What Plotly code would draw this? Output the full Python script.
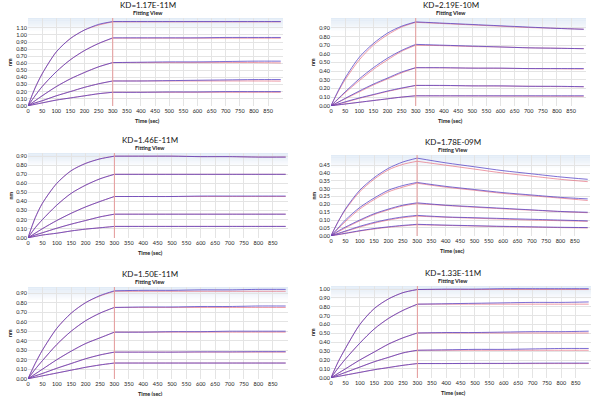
import plotly.graph_objects as go

W, H = 600, 396

# ---------------- data ----------------
T_ASSOC = [0, 25, 50, 100, 150, 200, 250, 300]
T_DISS = [300, 400, 500, 600, 700, 800, 895]
X_TICKS = list(range(0, 851, 50))

TITLES = ["KD=1.17E-11M", "KD=2.19E-10M", "KD=1.46E-11M",
          "KD=1.78E-09M", "KD=1.50E-11M", "KD=1.33E-11M"]

# Panel 1 (KD=1.17E-11M)
P1_ASSOC_DATA = [[0, 0.25, 0.45, 0.76, 0.95, 1.07, 1.15, 1.19],
                 [0, 0.14, 0.27, 0.48, 0.65, 0.78, 0.88, 0.96],
                 [0, 0.07, 0.14, 0.27, 0.38, 0.47, 0.55, 0.61],
                 [0, 0.04, 0.07, 0.14, 0.20, 0.26, 0.31, 0.35],
                 [0, 0.02, 0.04, 0.08, 0.11, 0.14, 0.17, 0.19]]
P1_ASSOC_FIT = [[0, 0.25, 0.45, 0.76, 0.95, 1.07, 1.14, 1.185],
                [0, 0.14, 0.27, 0.48, 0.65, 0.78, 0.88, 0.955],
                [0, 0.07, 0.14, 0.27, 0.38, 0.47, 0.55, 0.61],
                [0, 0.04, 0.07, 0.14, 0.20, 0.26, 0.31, 0.35],
                [0, 0.02, 0.04, 0.08, 0.11, 0.14, 0.17, 0.19]]
P1_DISS_DATA = [[1.19, 1.19, 1.19, 1.19, 1.19, 1.19, 1.19],
                [0.96, 0.96, 0.96, 0.96, 0.965, 0.965, 0.965],
                [0.61, 0.615, 0.62, 0.62, 0.625, 0.63, 0.63],
                [0.35, 0.35, 0.355, 0.36, 0.365, 0.37, 0.37],
                [0.19, 0.19, 0.195, 0.195, 0.20, 0.20, 0.20]]
P1_DISS_FIT = [[1.185, 1.185, 1.185, 1.185, 1.185, 1.185, 1.185],
               [0.955, 0.955, 0.955, 0.955, 0.955, 0.955, 0.955],
               [0.61, 0.61, 0.61, 0.61, 0.61, 0.61, 0.605],
               [0.35, 0.35, 0.35, 0.35, 0.35, 0.35, 0.348],
               [0.19, 0.19, 0.19, 0.19, 0.19, 0.19, 0.19]]

# Panel 2 (KD=2.19E-10M)
P2_ASSOC_DATA = [[0, 0.17, 0.32, 0.56, 0.72, 0.84, 0.92, 0.97],
                 [0, 0.08, 0.16, 0.31, 0.44, 0.55, 0.64, 0.71],
                 [0, 0.04, 0.085, 0.17, 0.25, 0.32, 0.39, 0.44],
                 [0, 0.02, 0.045, 0.09, 0.13, 0.17, 0.205, 0.235],
                 [0, 0.01, 0.02, 0.04, 0.06, 0.08, 0.10, 0.115]]
P2_ASSOC_FIT = [[0, 0.16, 0.30, 0.53, 0.70, 0.82, 0.91, 0.965],
                [0, 0.075, 0.15, 0.29, 0.42, 0.53, 0.63, 0.70],
                [0, 0.04, 0.08, 0.16, 0.24, 0.31, 0.38, 0.44],
                [0, 0.02, 0.04, 0.085, 0.125, 0.165, 0.20, 0.235],
                [0, 0.01, 0.02, 0.04, 0.06, 0.08, 0.10, 0.115]]
P2_DISS_DATA = [[0.97, 0.955, 0.94, 0.925, 0.91, 0.895, 0.885],
                [0.71, 0.70, 0.69, 0.68, 0.67, 0.665, 0.66],
                [0.44, 0.44, 0.435, 0.435, 0.43, 0.43, 0.43],
                [0.235, 0.235, 0.23, 0.23, 0.225, 0.225, 0.22],
                [0.115, 0.115, 0.115, 0.115, 0.115, 0.115, 0.115]]
P2_DISS_FIT = [[0.965, 0.95, 0.935, 0.92, 0.905, 0.895, 0.885],
               [0.70, 0.695, 0.685, 0.68, 0.67, 0.665, 0.66],
               [0.44, 0.438, 0.435, 0.433, 0.43, 0.428, 0.425],
               [0.235, 0.233, 0.23, 0.228, 0.225, 0.222, 0.22],
               [0.115, 0.114, 0.113, 0.112, 0.111, 0.11, 0.11]]

# Panel 3 (KD=1.46E-11M)
P3_ASSOC_DATA = [[0, 0.22, 0.38, 0.60, 0.74, 0.82, 0.87, 0.90],
                 [0, 0.11, 0.20, 0.36, 0.49, 0.58, 0.65, 0.70],
                 [0, 0.05, 0.10, 0.19, 0.27, 0.34, 0.40, 0.455],
                 [0, 0.03, 0.055, 0.105, 0.15, 0.19, 0.23, 0.26],
                 [0, 0.015, 0.03, 0.05, 0.075, 0.095, 0.11, 0.125]]
P3_ASSOC_FIT = [[0, 0.22, 0.38, 0.60, 0.74, 0.82, 0.87, 0.90],
                [0, 0.11, 0.20, 0.36, 0.49, 0.58, 0.65, 0.70],
                [0, 0.05, 0.10, 0.19, 0.27, 0.34, 0.40, 0.455],
                [0, 0.03, 0.055, 0.105, 0.15, 0.19, 0.23, 0.26],
                [0, 0.015, 0.03, 0.05, 0.075, 0.095, 0.11, 0.125]]
P3_DISS_DATA = [[0.90, 0.90, 0.90, 0.895, 0.895, 0.89, 0.89],
                [0.70, 0.70, 0.70, 0.70, 0.70, 0.70, 0.70],
                [0.455, 0.455, 0.455, 0.46, 0.46, 0.46, 0.46],
                [0.26, 0.26, 0.26, 0.26, 0.26, 0.26, 0.26],
                [0.125, 0.125, 0.125, 0.125, 0.125, 0.125, 0.125]]
P3_DISS_FIT = [[0.90, 0.90, 0.90, 0.895, 0.895, 0.89, 0.89],
               [0.70, 0.70, 0.70, 0.70, 0.70, 0.70, 0.70],
               [0.455, 0.455, 0.455, 0.455, 0.455, 0.455, 0.455],
               [0.26, 0.26, 0.26, 0.26, 0.26, 0.26, 0.26],
               [0.125, 0.125, 0.125, 0.125, 0.125, 0.125, 0.125]]

# Panel 4 (KD=1.78E-09M)
P4_ASSOC_DATA = [[0, 0.09, 0.17, 0.29, 0.37, 0.43, 0.47, 0.495],
                 [0, 0.05, 0.10, 0.18, 0.24, 0.29, 0.32, 0.34],
                 [0, 0.03, 0.055, 0.10, 0.14, 0.17, 0.195, 0.21],
                 [0, 0.015, 0.03, 0.06, 0.085, 0.105, 0.12, 0.13],
                 [0, 0.008, 0.016, 0.032, 0.046, 0.057, 0.066, 0.073]]
P4_ASSOC_FIT = [[0, 0.09, 0.165, 0.28, 0.36, 0.42, 0.455, 0.475],
                [0, 0.045, 0.09, 0.17, 0.23, 0.28, 0.31, 0.335],
                [0, 0.025, 0.05, 0.095, 0.135, 0.165, 0.19, 0.205],
                [0, 0.013, 0.027, 0.055, 0.08, 0.10, 0.115, 0.125],
                [0, 0.007, 0.014, 0.03, 0.043, 0.054, 0.063, 0.07]]
P4_DISS_DATA = [[0.495, 0.465, 0.44, 0.415, 0.395, 0.375, 0.36],
                [0.34, 0.315, 0.295, 0.275, 0.26, 0.245, 0.235],
                [0.21, 0.195, 0.185, 0.175, 0.165, 0.155, 0.15],
                [0.13, 0.12, 0.115, 0.11, 0.105, 0.10, 0.095],
                [0.073, 0.068, 0.064, 0.06, 0.057, 0.054, 0.052]]
P4_DISS_FIT = [[0.475, 0.45, 0.425, 0.40, 0.38, 0.36, 0.345],
               [0.335, 0.31, 0.29, 0.27, 0.255, 0.24, 0.225],
               [0.205, 0.193, 0.182, 0.172, 0.163, 0.154, 0.147],
               [0.125, 0.118, 0.112, 0.106, 0.10, 0.096, 0.092],
               [0.07, 0.066, 0.062, 0.058, 0.055, 0.052, 0.05]]

# Panel 5 (KD=1.50E-11M)
P5_ASSOC_DATA = [[0, 0.16, 0.30, 0.53, 0.69, 0.80, 0.875, 0.925],
                 [0, 0.10, 0.19, 0.36, 0.50, 0.61, 0.69, 0.75],
                 [0, 0.05, 0.10, 0.20, 0.29, 0.37, 0.43, 0.49],
                 [0, 0.03, 0.055, 0.11, 0.16, 0.21, 0.25, 0.28],
                 [0, 0.015, 0.03, 0.06, 0.09, 0.12, 0.145, 0.165]]
P5_ASSOC_FIT = [[0, 0.16, 0.30, 0.53, 0.69, 0.80, 0.87, 0.92],
                [0, 0.10, 0.19, 0.36, 0.50, 0.61, 0.69, 0.75],
                [0, 0.05, 0.10, 0.20, 0.29, 0.37, 0.43, 0.49],
                [0, 0.03, 0.055, 0.11, 0.16, 0.21, 0.25, 0.28],
                [0, 0.015, 0.03, 0.06, 0.09, 0.12, 0.145, 0.165]]
P5_DISS_DATA = [[0.925, 0.93, 0.93, 0.935, 0.935, 0.94, 0.94],
                [0.75, 0.755, 0.755, 0.76, 0.76, 0.765, 0.765],
                [0.49, 0.49, 0.495, 0.495, 0.50, 0.50, 0.50],
                [0.28, 0.28, 0.28, 0.283, 0.283, 0.285, 0.285],
                [0.165, 0.165, 0.165, 0.165, 0.165, 0.165, 0.165]]
P5_DISS_FIT = [[0.92, 0.92, 0.92, 0.92, 0.92, 0.92, 0.92],
               [0.75, 0.75, 0.75, 0.75, 0.75, 0.75, 0.75],
               [0.49, 0.49, 0.49, 0.49, 0.49, 0.49, 0.49],
               [0.28, 0.28, 0.28, 0.28, 0.28, 0.28, 0.28],
               [0.165, 0.165, 0.165, 0.165, 0.165, 0.165, 0.165]]

# Panel 6 (KD=1.33E-11M)
P6_ASSOC_DATA = [[0, 0.18, 0.33, 0.60, 0.78, 0.89, 0.96, 0.995],
                 [0, 0.11, 0.21, 0.39, 0.55, 0.67, 0.76, 0.83],
                 [0, 0.05, 0.10, 0.20, 0.29, 0.38, 0.45, 0.505],
                 [0, 0.03, 0.06, 0.12, 0.18, 0.23, 0.28, 0.31],
                 [0, 0.015, 0.03, 0.06, 0.09, 0.115, 0.14, 0.16]]
P6_ASSOC_FIT = [[0, 0.18, 0.33, 0.60, 0.78, 0.89, 0.96, 0.995],
                [0, 0.11, 0.21, 0.39, 0.55, 0.67, 0.76, 0.83],
                [0, 0.05, 0.10, 0.20, 0.29, 0.38, 0.45, 0.505],
                [0, 0.03, 0.06, 0.12, 0.18, 0.23, 0.28, 0.31],
                [0, 0.015, 0.03, 0.06, 0.09, 0.115, 0.14, 0.16]]
P6_DISS_DATA = [[0.995, 1.0, 1.0, 1.005, 1.005, 1.005, 1.005],
                [0.83, 0.835, 0.84, 0.845, 0.85, 0.85, 0.855],
                [0.505, 0.51, 0.51, 0.515, 0.52, 0.52, 0.525],
                [0.31, 0.315, 0.32, 0.32, 0.325, 0.33, 0.33],
                [0.16, 0.16, 0.162, 0.162, 0.164, 0.165, 0.165]]
P6_DISS_FIT = [[0.995, 0.995, 0.995, 0.995, 0.995, 0.995, 0.995],
               [0.83, 0.83, 0.83, 0.83, 0.83, 0.83, 0.83],
               [0.505, 0.505, 0.505, 0.505, 0.505, 0.505, 0.505],
               [0.31, 0.31, 0.31, 0.31, 0.31, 0.31, 0.31],
               [0.16, 0.16, 0.16, 0.16, 0.16, 0.16, 0.16]]

PANEL_DATA = [
    (P1_ASSOC_DATA, P1_ASSOC_FIT, P1_DISS_DATA, P1_DISS_FIT),
    (P2_ASSOC_DATA, P2_ASSOC_FIT, P2_DISS_DATA, P2_DISS_FIT),
    (P3_ASSOC_DATA, P3_ASSOC_FIT, P3_DISS_DATA, P3_DISS_FIT),
    (P4_ASSOC_DATA, P4_ASSOC_FIT, P4_DISS_DATA, P4_DISS_FIT),
    (P5_ASSOC_DATA, P5_ASSOC_FIT, P5_DISS_DATA, P5_DISS_FIT),
    (P6_ASSOC_DATA, P6_ASSOC_FIT, P6_DISS_DATA, P6_DISS_FIT),
]
Y_TOP = [1.24, 1.015, 0.935, 0.515, 0.965, 1.035]
Y_DTICK = [0.1, 0.1, 0.1, 0.05, 0.1, 0.1]
Y_TICK_MAX = [1.10, 0.90, 0.90, 0.45, 0.90, 1.00]

# ---------------- layout (pixel boxes) ----------------
# (left, right, top, bottom) of each plot area
BOXES = [(28, 283, 18, 106), (331, 586, 18, 106),
         (28, 288, 153, 238), (331, 590, 155, 236),
         (28, 288, 287, 379), (331, 591, 286, 378)]

DATA_COLOR = "rgba(75,55,195,0.72)"
FIT_COLOR = "rgba(228,95,115,0.9)"
FONT = "Lato"

fig = go.Figure()
shapes = []
annotations = []


def fx(px):
    return px / W


def fy(py):
    return 1 - py / H


for i in range(6):
    n = i + 1
    xa = "x" if n == 1 else f"x{n}"
    ya = "y" if n == 1 else f"y{n}"
    l, r, t, b = BOXES[i]
    a_data, a_fit, d_data, d_fit = PANEL_DATA[i]
    for k in range(5):
        for tt, yy, col, wd in ((T_ASSOC, a_fit[k], FIT_COLOR, 0.7),
                                (T_DISS, d_fit[k], FIT_COLOR, 0.7),
                                (T_ASSOC, a_data[k], DATA_COLOR, 1.0),
                                (T_DISS, d_data[k], DATA_COLOR, 1.0)):
            fig.add_trace(go.Scatter(x=tt, y=yy, mode="lines", xaxis=xa, yaxis=ya,
                                     line=dict(color=col, width=wd, shape="spline",
                                               smoothing=0.8),
                                     showlegend=False, hoverinfo="skip"))

    ticks_y = []
    v = 0.0
    while v <= Y_TICK_MAX[i] + 1e-9:
        ticks_y.append(round(v, 2))
        v += Y_DTICK[i]

    axis_font = dict(family=FONT, size=5.5, color="#222222")
    fig.layout[f"xaxis{'' if n == 1 else n}"] = dict(
        domain=[fx(l), fx(r)], anchor=ya, range=[0, 903], automargin=False,
        tickvals=X_TICKS, ticktext=[str(v) for v in X_TICKS],
        showgrid=True, gridcolor="#e4e4e4", gridwidth=0.6,
        zeroline=False, showline=False, ticks="", ticklen=0,
        tickfont=axis_font, fixedrange=True)
    fig.layout[f"yaxis{'' if n == 1 else n}"] = dict(
        domain=[fy(b), fy(t)], anchor=xa, range=[-0.003 * Y_TOP[i], Y_TOP[i]],
        automargin=False,
        tickvals=ticks_y, ticktext=[f"{v:.2f}" for v in ticks_y],
        showgrid=True, gridcolor="#e4e4e4", gridwidth=0.6,
        zeroline=False, showline=False, ticks="", ticklen=0,
        tickfont=axis_font, fixedrange=True)

    # light blue gradient band at the top of each plot area
    hgt = b - t
    nb = 8
    for j in range(nb):
        shapes.append(dict(type="rect", xref=f"{xa} domain", yref=f"{ya} domain",
                           x0=0, x1=1, y0=1 - (j + 1) * 1.6 / hgt, y1=1 - j * 1.6 / hgt,
                           fillcolor="#dce7f4", opacity=0.85 * (1 - j / nb),
                           line=dict(width=0), layer="below"))
    # start of dissociation marker
    shapes.append(dict(type="line", xref=xa, yref=f"{ya} domain", x0=300, x1=300,
                       y0=0, y1=1, line=dict(color="#e69a9a", width=1)))

    cx = (l + r) / 2 - 8
    annotations.append(dict(text=TITLES[i], x=fx(cx), y=fy(t - 13), xref="paper",
                            yref="paper", showarrow=False, xanchor="center",
                            yanchor="middle", font=dict(family=FONT, size=8, color="#111")))
    annotations.append(dict(text="<b>Fitting View</b>", x=fx(cx), y=fy(t - 5),
                            xref="paper", yref="paper", showarrow=False,
                            xanchor="center", yanchor="middle",
                            font=dict(family=FONT, size=5.5, color="#222")))
    annotations.append(dict(text="<b>Time (sec)</b>", x=fx((l + r) / 2 - 8), y=fy(b + 15),
                            xref="paper", yref="paper", showarrow=False,
                            xanchor="center", yanchor="middle",
                            font=dict(family=FONT, size=5.5, color="#222")))
    annotations.append(dict(text="<b>nm</b>", x=fx(l - 18), y=fy((t + b) / 2),
                            xref="paper", yref="paper", showarrow=False, textangle=-90,
                            xanchor="center", yanchor="middle",
                            font=dict(family=FONT, size=5.5, color="#222")))

fig.update_layout(width=W, height=H, margin=dict(l=0, r=0, t=0, b=0),
                  paper_bgcolor="white", plot_bgcolor="white",
                  shapes=shapes, annotations=annotations, showlegend=False)
fig.write_html("out.html", config={"displayModeBar": False},
               post_script="document.body.style.margin='0';"
                           "document.body.style.overflow='hidden';")
